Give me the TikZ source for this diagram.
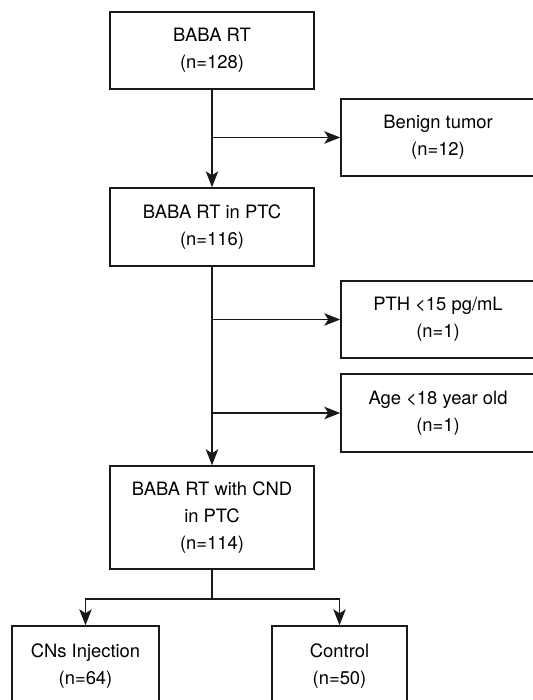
\documentclass[tikz,border=0pt]{standalone}
\usepackage{fontspec}
\setmainfont{TeX Gyre Heros}
\usetikzlibrary{arrows.meta,calc}
\begin{document}
\begin{tikzpicture}[x=0.5pt,y=-0.5pt,
  box/.style={draw=black!90,line width=0.7pt,inner sep=0pt,align=center,
    font=\fontsize{9.2}{13.5}\selectfont},
  flow/.style={draw=black!90,line width=0.8pt,-{Stealth[length=8pt,width=6.2pt,inset=2pt]}},
  link/.style={draw=black!90,line width=0.8pt}]
\useasboundingbox (0,0) rectangle (533,700);
\clip (0,0) rectangle (533,700);
% main column
\node[box,minimum width=102pt,minimum height=38.5pt] (rt) at (212,50.5) {BABA RT\\(n=128)};
\node[box,minimum width=102pt,minimum height=39pt] (ptc) at (212,227) {BABA RT in PTC\\(n=116)};
\node[box,minimum width=102pt,minimum height=51.5pt] (cnd) at (212,517.5) {BABA RT with CND\\in PTC\\(n=114)};
% excluded
\node[box,minimum width=97pt,minimum height=38.5pt] (benign) at (438,137.5) {Benign tumor\\(n=12)};
\node[box,minimum width=97pt,minimum height=38.5pt] (pth) at (438,319.5) {PTH <15 pg/mL\\(n=1)};
\node[box,minimum width=97pt,minimum height=39pt] (age) at (438,413) {Age <18 year old\\(n=1)};
% groups
\node[box,minimum width=73.5pt,minimum height=40pt] (inj) at (85.5,666) {CNs Injection\\(n=64)};
\node[box,minimum width=67.5pt,minimum height=40pt] (ctrl) at (339.5,666) {Control\\(n=50)};
% arrows
\draw[flow] (rt) -- (ptc);
\draw[flow] (rt |- benign.west) -- (benign.west);
\draw[flow] (ptc) -- (cnd);
\draw[flow] (ptc |- pth.west) -- (pth.west);
\draw[flow] (ptc |- age.west) -- (age.west);
\coordinate (split) at ($(cnd.south)+(0,29)$);
\draw[link] (cnd.south) -- (split);
\draw[flow] (split) -| (inj.north);
\draw[flow] (split) -| (ctrl.north);
\end{tikzpicture}
\end{document}
